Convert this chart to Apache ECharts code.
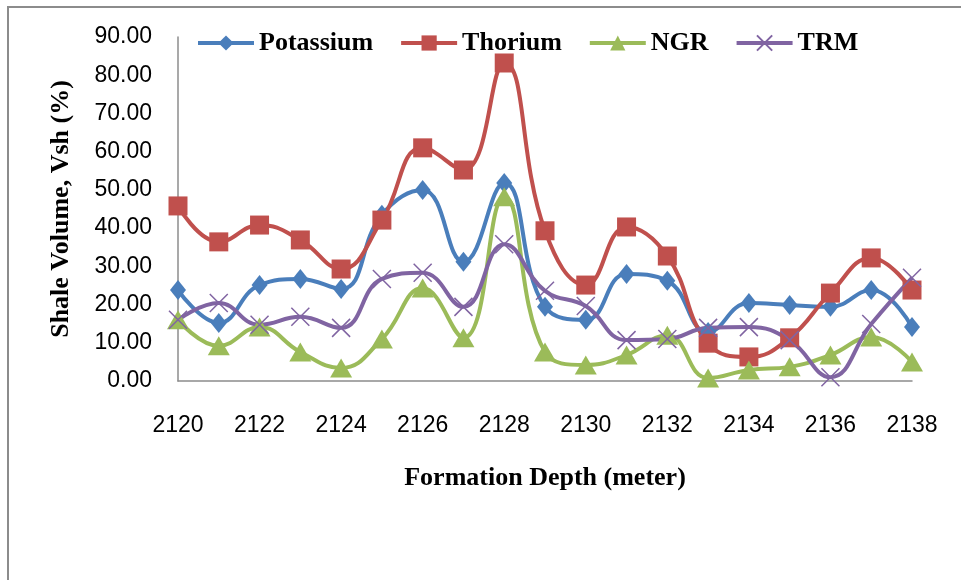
<!DOCTYPE html>
<html>
<head>
<meta charset="utf-8">
<title>Shale Volume vs Formation Depth</title>
<script src="https://cdn.jsdelivr.net/npm/echarts@6/dist/echarts.min.js"></script>
<style>
  html, body { margin: 0; padding: 0; background: #fff; }
  #chart { width: 961px; height: 580px; }
</style>
</head>
<body>
<div id="chart"></div>
<script>
// Depth samples (meters)
const depths = [2120, 2121, 2122, 2123, 2124, 2125, 2126, 2127, 2128, 2129,
                2130, 2131, 2132, 2133, 2134, 2135, 2136, 2137, 2138];

// Shale volume estimates (%) from each method
const potassium = [23.8, 15.2, 25.1, 26.7, 24.1, 43.5, 50.0, 31.2, 51.8, 19.4,
                   16.0, 28.0, 26.2, 12.8, 20.4, 19.9, 19.4, 23.8, 14.1];
const thorium   = [45.8, 36.4, 40.8, 36.9, 29.3, 42.1, 61.0, 55.2, 83.2, 39.3,
                   25.1, 40.3, 32.7, 9.9, 6.3, 11.3, 23.0, 32.2, 23.8];
const ngr       = [16.0, 9.2, 14.1, 7.6, 3.4, 11.0, 24.3, 11.3, 48.2, 7.6,
                   4.2, 6.8, 12.0, 0.8, 2.9, 3.7, 6.8, 11.5, 5.0];
const trm       = [16.0, 20.4, 14.7, 16.8, 13.9, 26.7, 28.3, 19.4, 35.8, 23.6,
                   19.6, 10.7, 11.0, 13.9, 14.1, 10.7, 1.0, 14.9, 27.0];

const seriesNames = ['Potassium', 'Thorium', 'NGR', 'TRM'];

function pairs(values) {
  return depths.map((d, i) => [d, values[i]]);
}

const serifBold = { fontFamily: '"Liberation Serif", "Times New Roman", serif', fontWeight: 'bold', color: '#000' };
const tickFont = { fontFamily: '"Liberation Sans", Arial, sans-serif', fontSize: 23, color: '#000' };

function lineSeries(name, values, color, symbol, size, extraItem) {
  return {
    name: name,
    type: 'line',
    data: pairs(values),
    smooth: 0.45,
    symbol: symbol,
    symbolSize: size,
    lineStyle: { color: color, width: 4 },
    itemStyle: Object.assign({ color: color }, extraItem || {}),
    emphasis: { disabled: true },
    z: 2
  };
}

const chart = echarts.init(document.getElementById('chart'), null, { renderer: 'canvas' });

chart.setOption({
  animation: false,
  backgroundColor: '#fff',
  graphic: [{
    type: 'rect',
    shape: { x: 8, y: 7, width: 1100, height: 700 },
    style: { fill: 'none', stroke: '#8c8c8c', lineWidth: 2 },
    silent: true
  }],
  legend: {
    data: seriesNames,
    left: 191,
    top: 25,
    itemWidth: 56,
    itemHeight: 19,
    itemGap: 26,
    lineStyle: { width: 4 },
    textStyle: Object.assign({ fontSize: 26 }, serifBold)
  },
  grid: { left: 178, top: 37, right: 49, bottom: 199, containLabel: false },
  xAxis: {
    type: 'value',
    min: 2120,
    max: 2138,
    interval: 2,
    name: 'Formation Depth (meter)',
    nameLocation: 'middle',
    nameGap: 84,
    nameTextStyle: Object.assign({ fontSize: 26 }, serifBold),
    axisLine: { show: true, lineStyle: { color: '#8c8c8c', width: 1.5 } },
    axisTick: { show: false },
    splitLine: { show: false },
    axisLabel: Object.assign({ margin: 33, formatter: v => String(v) }, tickFont)
  },
  yAxis: {
    type: 'value',
    min: 0,
    max: 90,
    interval: 10,
    name: 'Shale Volume, Vsh (%)',
    nameLocation: 'middle',
    nameGap: 104,
    nameTextStyle: Object.assign({ fontSize: 26 }, serifBold),
    axisLine: { show: true, lineStyle: { color: '#8c8c8c', width: 1.5 } },
    axisTick: { show: false },
    splitLine: { show: false },
    axisLabel: Object.assign({ margin: 26, formatter: v => v.toFixed(2) }, tickFont)
  },
  series: [
    lineSeries('Potassium', potassium, '#4A7EBB', 'diamond', [16, 20]),
    lineSeries('Thorium', thorium, '#C0504D', 'rect', 19),
    lineSeries('NGR', ngr, '#9BBB59', 'triangle', [22, 19]),
    lineSeries('TRM', trm, '#8064A2', 'path://M0,0L10,10M10,0L0,10', 18,
               { borderColor: '#8064A2', borderWidth: 1.5 })
  ]
});
</script>
</body>
</html>
